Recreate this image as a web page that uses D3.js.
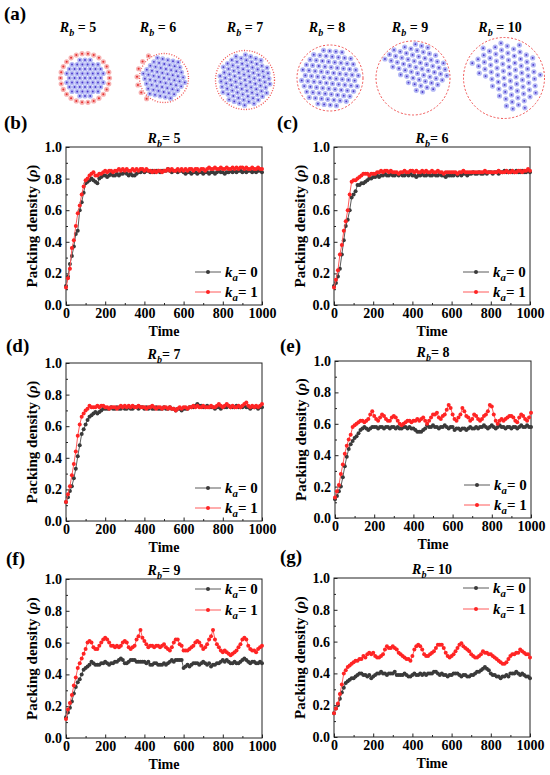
<!DOCTYPE html>
<html>
<head>
<meta charset="utf-8">
<script src="https://cdn.jsdelivr.net/npm/d3@7"></script>
<style>
  body { margin: 0; background: #fff; }
  svg text { font-family: "Liberation Serif", "Times New Roman", serif; font-weight: bold; fill: #000; }
</style>
</head>
<body>
<svg id="fig" width="550" height="775"></svg>
<script>
// 1: DATA (time step 10)
const times = d3.range(0, 1001, 10);
const xTicks = [0, 200, 400, 600, 800, 1000];
const yTicks = [0, 0.2, 0.4, 0.6, 0.8, 1.0];
const rbValues = [5, 6, 7, 8, 9, 10];
const kaLabels = ["0", "1"];

const rb5Ka0 = [0.12,0.18,0.26,0.31,0.37,0.45,0.47,0.60,0.65,0.71,0.77,0.78,0.79,0.80,0.79,0.78,0.77,0.80,0.81,0.82,0.82,
  0.81,0.82,0.83,0.82,0.82,0.83,0.82,0.83,0.83,0.84,0.83,0.82,0.83,0.82,0.82,0.83,0.84,0.84,0.85,0.84,
  0.85,0.85,0.84,0.85,0.84,0.85,0.85,0.84,0.85,0.85,0.85,0.86,0.85,0.84,0.85,0.85,0.84,0.85,0.85,0.84,
  0.83,0.84,0.84,0.83,0.84,0.84,0.83,0.84,0.84,0.83,0.84,0.84,0.83,0.84,0.84,0.83,0.84,0.85,0.84,0.84,
  0.83,0.84,0.84,0.85,0.84,0.85,0.84,0.85,0.85,0.84,0.85,0.84,0.85,0.85,0.84,0.85,0.84,0.85,0.85,0.84];
const rb5Ka1 = [0.11,0.17,0.23,0.36,0.41,0.50,0.58,0.63,0.70,0.75,0.79,0.80,0.82,0.83,0.84,0.82,0.82,0.83,0.83,0.84,0.85,
  0.84,0.85,0.85,0.84,0.85,0.85,0.86,0.85,0.86,0.85,0.86,0.85,0.85,0.86,0.85,0.86,0.85,0.86,0.86,0.85,
  0.86,0.85,0.85,0.84,0.85,0.84,0.85,0.85,0.84,0.85,0.85,0.86,0.85,0.86,0.85,0.85,0.86,0.85,0.86,0.85,
  0.86,0.85,0.86,0.86,0.85,0.86,0.86,0.85,0.86,0.86,0.85,0.86,0.87,0.86,0.86,0.87,0.86,0.86,0.87,0.86,
  0.86,0.87,0.86,0.86,0.87,0.86,0.87,0.86,0.87,0.87,0.86,0.87,0.86,0.86,0.87,0.86,0.86,0.87,0.86,0.86];

const rb6Ka0 = [0.12,0.14,0.18,0.23,0.32,0.41,0.50,0.54,0.60,0.68,0.70,0.72,0.76,0.76,0.77,0.77,0.78,0.79,0.80,0.80,0.81,
  0.81,0.82,0.81,0.82,0.82,0.83,0.82,0.82,0.83,0.82,0.82,0.83,0.82,0.83,0.82,0.82,0.83,0.82,0.83,0.82,
  0.82,0.81,0.82,0.82,0.83,0.82,0.82,0.83,0.82,0.82,0.83,0.82,0.82,0.83,0.82,0.82,0.81,0.82,0.82,0.82,
  0.82,0.83,0.82,0.83,0.82,0.83,0.83,0.82,0.83,0.83,0.84,0.83,0.83,0.84,0.83,0.83,0.84,0.83,0.84,0.84,
  0.83,0.84,0.84,0.83,0.84,0.84,0.85,0.84,0.84,0.85,0.84,0.84,0.85,0.84,0.84,0.85,0.84,0.84,0.85,0.84];
const rb6Ka1 = [0.11,0.16,0.22,0.32,0.38,0.47,0.53,0.60,0.70,0.78,0.79,0.79,0.80,0.81,0.82,0.83,0.83,0.83,0.82,0.83,0.83,
  0.83,0.84,0.84,0.85,0.84,0.85,0.85,0.84,0.85,0.84,0.84,0.84,0.83,0.84,0.84,0.85,0.84,0.84,0.85,0.85,
  0.84,0.85,0.84,0.84,0.85,0.84,0.85,0.84,0.84,0.85,0.84,0.84,0.85,0.84,0.84,0.83,0.84,0.84,0.84,0.84,
  0.84,0.84,0.83,0.84,0.84,0.85,0.84,0.84,0.84,0.84,0.84,0.84,0.84,0.84,0.84,0.84,0.85,0.84,0.84,0.84,
  0.84,0.84,0.84,0.85,0.84,0.84,0.84,0.85,0.84,0.84,0.85,0.84,0.84,0.85,0.85,0.84,0.85,0.85,0.86,0.85];

const rb7Ka0 = [0.12,0.15,0.19,0.22,0.27,0.33,0.41,0.48,0.55,0.58,0.61,0.64,0.66,0.67,0.68,0.69,0.68,0.69,0.70,0.71,0.71,
  0.71,0.71,0.72,0.71,0.71,0.72,0.71,0.71,0.72,0.71,0.71,0.72,0.71,0.71,0.72,0.72,0.71,0.72,0.72,0.71,
  0.72,0.71,0.72,0.71,0.71,0.72,0.71,0.71,0.71,0.72,0.71,0.71,0.72,0.71,0.71,0.70,0.71,0.71,0.70,0.71,
  0.71,0.71,0.72,0.72,0.72,0.73,0.74,0.73,0.73,0.72,0.72,0.73,0.72,0.72,0.72,0.71,0.72,0.72,0.71,0.72,
  0.72,0.72,0.73,0.72,0.72,0.72,0.73,0.72,0.72,0.72,0.73,0.72,0.72,0.71,0.72,0.72,0.72,0.71,0.72,0.72];
const rb7Ka1 = [0.12,0.17,0.22,0.29,0.36,0.44,0.54,0.61,0.66,0.68,0.70,0.71,0.73,0.72,0.72,0.72,0.73,0.72,0.73,0.73,0.72,
  0.72,0.71,0.72,0.72,0.72,0.71,0.72,0.73,0.72,0.73,0.72,0.73,0.72,0.73,0.72,0.72,0.73,0.72,0.72,0.72,
  0.71,0.72,0.72,0.73,0.72,0.71,0.72,0.72,0.71,0.72,0.72,0.71,0.72,0.71,0.71,0.70,0.71,0.72,0.71,0.72,
  0.72,0.71,0.72,0.72,0.73,0.72,0.73,0.72,0.72,0.73,0.72,0.72,0.72,0.73,0.72,0.72,0.73,0.74,0.73,0.72,
  0.73,0.74,0.73,0.72,0.73,0.72,0.72,0.73,0.72,0.73,0.74,0.75,0.73,0.72,0.73,0.72,0.73,0.72,0.73,0.74];

const rb8Ka0 = [0.12,0.14,0.17,0.20,0.26,0.33,0.39,0.44,0.47,0.49,0.51,0.52,0.54,0.56,0.57,0.58,0.57,0.56,0.57,0.58,0.58,
  0.58,0.57,0.58,0.58,0.57,0.58,0.58,0.57,0.58,0.58,0.57,0.58,0.57,0.57,0.58,0.58,0.57,0.58,0.57,0.57,
  0.56,0.55,0.55,0.55,0.56,0.57,0.59,0.58,0.58,0.59,0.58,0.58,0.57,0.58,0.58,0.59,0.58,0.57,0.58,0.58,
  0.56,0.57,0.57,0.56,0.57,0.57,0.56,0.57,0.58,0.57,0.57,0.58,0.57,0.58,0.58,0.59,0.58,0.57,0.58,0.59,
  0.58,0.57,0.58,0.59,0.58,0.58,0.57,0.58,0.58,0.57,0.58,0.58,0.57,0.58,0.59,0.58,0.58,0.59,0.58,0.58];
const rb8Ka1 = [0.13,0.17,0.21,0.28,0.34,0.41,0.46,0.50,0.53,0.58,0.59,0.60,0.61,0.62,0.62,0.61,0.62,0.63,0.66,0.68,0.65,
  0.63,0.62,0.64,0.66,0.65,0.63,0.62,0.62,0.64,0.65,0.64,0.62,0.60,0.59,0.60,0.61,0.62,0.62,0.61,0.62,
  0.62,0.63,0.62,0.63,0.64,0.62,0.60,0.62,0.64,0.66,0.66,0.67,0.64,0.63,0.65,0.66,0.69,0.72,0.70,0.66,
  0.63,0.62,0.64,0.66,0.70,0.68,0.65,0.64,0.62,0.63,0.66,0.65,0.63,0.62,0.63,0.65,0.66,0.68,0.72,0.71,
  0.66,0.62,0.60,0.62,0.63,0.62,0.63,0.64,0.65,0.65,0.64,0.62,0.61,0.64,0.66,0.65,0.63,0.62,0.64,0.67];

const rb9Ka0 = [0.13,0.16,0.19,0.23,0.28,0.32,0.35,0.37,0.40,0.43,0.44,0.45,0.46,0.48,0.47,0.46,0.46,0.46,0.47,0.47,0.48,
  0.47,0.46,0.47,0.47,0.48,0.48,0.49,0.50,0.49,0.47,0.47,0.48,0.49,0.49,0.49,0.48,0.48,0.48,0.48,0.48,
  0.47,0.48,0.46,0.46,0.47,0.47,0.46,0.46,0.46,0.47,0.46,0.47,0.48,0.49,0.48,0.49,0.49,0.49,0.49,0.44,
  0.45,0.46,0.45,0.46,0.47,0.47,0.47,0.46,0.47,0.48,0.47,0.46,0.47,0.45,0.46,0.46,0.47,0.47,0.48,0.49,
  0.48,0.49,0.48,0.47,0.47,0.48,0.47,0.47,0.48,0.49,0.50,0.49,0.48,0.47,0.48,0.48,0.47,0.47,0.48,0.47];
const rb9Ka1 = [0.12,0.18,0.22,0.27,0.33,0.38,0.44,0.47,0.50,0.53,0.56,0.60,0.61,0.60,0.57,0.56,0.56,0.58,0.60,0.62,0.63,
  0.62,0.60,0.58,0.58,0.57,0.58,0.57,0.58,0.60,0.61,0.60,0.57,0.56,0.57,0.58,0.62,0.64,0.68,0.63,0.61,
  0.59,0.57,0.58,0.58,0.57,0.58,0.58,0.57,0.58,0.59,0.57,0.56,0.55,0.57,0.60,0.62,0.62,0.59,0.58,0.55,
  0.55,0.55,0.56,0.57,0.58,0.60,0.61,0.60,0.58,0.56,0.57,0.59,0.62,0.64,0.68,0.62,0.59,0.57,0.55,0.54,
  0.55,0.54,0.53,0.52,0.53,0.54,0.55,0.57,0.59,0.62,0.63,0.62,0.58,0.56,0.55,0.55,0.54,0.56,0.57,0.58];

const rb10Ka0 = [0.15,0.18,0.20,0.24,0.28,0.31,0.34,0.35,0.36,0.37,0.37,0.38,0.39,0.40,0.40,0.39,0.39,0.38,0.39,0.37,0.38,
  0.39,0.40,0.40,0.41,0.40,0.40,0.39,0.40,0.40,0.40,0.41,0.39,0.39,0.39,0.39,0.40,0.39,0.38,0.38,0.39,
  0.40,0.39,0.39,0.40,0.39,0.40,0.39,0.40,0.40,0.40,0.41,0.41,0.40,0.39,0.40,0.39,0.39,0.38,0.39,0.39,
  0.40,0.40,0.40,0.39,0.38,0.39,0.39,0.38,0.38,0.39,0.39,0.40,0.41,0.41,0.42,0.43,0.44,0.43,0.42,0.40,
  0.39,0.39,0.38,0.38,0.37,0.38,0.38,0.39,0.38,0.40,0.40,0.40,0.41,0.40,0.39,0.40,0.39,0.38,0.38,0.37];
const rb10Ka1 = [0.15,0.18,0.21,0.27,0.33,0.40,0.42,0.44,0.45,0.46,0.47,0.48,0.48,0.49,0.49,0.51,0.50,0.52,0.53,0.52,0.53,
  0.51,0.50,0.50,0.51,0.52,0.55,0.57,0.56,0.56,0.57,0.56,0.55,0.53,0.52,0.51,0.50,0.49,0.49,0.48,0.51,
  0.55,0.57,0.58,0.57,0.55,0.52,0.51,0.51,0.52,0.53,0.54,0.56,0.58,0.58,0.58,0.56,0.53,0.51,0.50,0.51,
  0.52,0.54,0.56,0.58,0.59,0.57,0.56,0.55,0.54,0.52,0.51,0.50,0.50,0.51,0.52,0.54,0.53,0.53,0.52,0.52,
  0.51,0.50,0.49,0.48,0.47,0.46,0.46,0.47,0.49,0.51,0.52,0.52,0.53,0.53,0.55,0.54,0.53,0.52,0.52,0.50];

// 2: LAYOUT
const svg = d3.select("#fig");
const FONT = "\"Liberation Serif\", \"Times New Roman\", serif";

const plots = [
  { tag: "(b)", tagX: 4,   tagY: 129, rb: 5,  series: [rb5Ka0, rb5Ka1],  left: 66,  top: 147, w: 196, h: 158, legend: "bottom" },
  { tag: "(c)", tagX: 277, tagY: 129, rb: 6,  series: [rb6Ka0, rb6Ka1],  left: 334, top: 147, w: 196, h: 158, legend: "bottom" },
  { tag: "(d)", tagX: 6,   tagY: 352, rb: 7,  series: [rb7Ka0, rb7Ka1],  left: 66,  top: 363, w: 196, h: 158, legend: "bottom" },
  { tag: "(e)", tagX: 280, tagY: 352, rb: 8,  series: [rb8Ka0, rb8Ka1],  left: 335, top: 361, w: 196, h: 157, legend: "bottom" },
  { tag: "(f)", tagX: 6,   tagY: 565, rb: 9,  series: [rb9Ka0, rb9Ka1],  left: 66,  top: 579, w: 196, h: 159, legend: "top" },
  { tag: "(g)", tagX: 280, tagY: 563, rb: 10, series: [rb10Ka0, rb10Ka1], left: 334, top: 578, w: 196, h: 159, legend: "top" }
];

const lineColors = ["#5a5a5a", "#ff5a5a"];
const dotColors = ["#3a3a3a", "#ff2424"];

// subscript label helper: main italic letter + italic subscript + rest
function subLabel(sel, main, sub, rest, size) {
  sel.append("tspan").attr("font-style", "italic").text(main);
  sel.append("tspan").attr("font-style", "italic").attr("font-size", size * 0.72).attr("dy", size * 0.25).text(sub);
  sel.append("tspan").attr("dy", -size * 0.25).text(rest);
}

// 3: PANELS (b)-(g)
plots.forEach(p => {
  const g = svg.append("g").attr("transform", `translate(${p.left},${p.top})`);

  const x = d3.scaleLinear().domain([0, 1000]).range([0, p.w]);
  const y = d3.scaleLinear().domain([0, 1]).range([p.h, 0]);

  // axes (ticks inward)
  const xAxis = g.append("g").attr("transform", `translate(0,${p.h})`)
    .call(d3.axisBottom(x).tickValues(xTicks).tickFormat(d3.format("d"))
      .tickSizeInner(-3.5).tickSizeOuter(0).tickPadding(3));
  g.append("g").attr("transform", `translate(0,${p.h})`)
    .call(d3.axisBottom(x).tickValues(d3.range(100, 1000, 200)).tickSizeInner(-2).tickSizeOuter(0).tickFormat(""));
  const yAxis = g.append("g")
    .call(d3.axisLeft(y).tickValues(yTicks).tickFormat(d3.format(".1f")).tickSizeInner(-3.5).tickSizeOuter(0).tickPadding(4));
  g.append("g")
    .call(d3.axisLeft(y).tickValues([0.1, 0.3, 0.5, 0.7, 0.9]).tickSizeInner(-2).tickSizeOuter(0).tickFormat(""));

  g.selectAll(".domain").remove();
  g.selectAll(".tick line").attr("stroke", "#222");
  [xAxis, yAxis].forEach(a => a.selectAll("text")
    .attr("font-family", FONT).attr("font-size", 14).attr("font-weight", "bold").attr("fill", "#000"));

  // frame
  g.append("rect").attr("width", p.w).attr("height", p.h)
    .attr("fill", "none").attr("stroke", "#222").attr("stroke-width", 1);

  // series
  const line = d3.line().x((d, i) => x(times[i])).y(d => y(d));
  p.series.forEach((vals, k) => {
    g.append("path").datum(vals)
      .attr("fill", "none").attr("stroke", lineColors[k]).attr("stroke-width", 1)
      .attr("d", line);
    g.selectAll(null).data(vals).enter().append("circle")
      .attr("cx", (d, i) => x(times[i])).attr("cy", d => y(d))
      .attr("r", 2).attr("fill", dotColors[k]);
  });

  // title
  const title = g.append("text").attr("x", p.w / 2).attr("y", -4)
    .attr("text-anchor", "middle").attr("font-size", 14);
  subLabel(title, "R", "b", "= " + p.rb, 14);

  // axis labels
  g.append("text").attr("x", p.w / 2).attr("y", p.h + 31)
    .attr("text-anchor", "middle").attr("font-size", 14).text("Time");
  const yl = g.append("text").attr("transform", `translate(-29,${p.h / 2}) rotate(-90)`)
    .attr("text-anchor", "middle").attr("font-size", 15);
  yl.append("tspan").text("Packing density (");
  yl.append("tspan").attr("font-style", "italic").text("ρ");
  yl.append("tspan").text(")");

  // legend
  const rows = p.legend === "top" ? [10, 31] : [p.h - 33, p.h - 13];
  kaLabels.forEach((lab, k) => {
    const ly = rows[k];
    g.append("line").attr("x1", p.w - 67).attr("x2", p.w - 41).attr("y1", ly).attr("y2", ly)
      .attr("stroke", lineColors[k]).attr("stroke-width", 1);
    g.append("circle").attr("cx", p.w - 54).attr("cy", ly).attr("r", 2).attr("fill", dotColors[k]);
    const t = g.append("text").attr("x", p.w - 37).attr("y", ly + 5).attr("font-size", 15);
    subLabel(t, "k", "a", "= " + lab, 15);
  });

  // panel tag
  svg.append("text").attr("x", p.tagX).attr("y", p.tagY).attr("font-size", 19).text(p.tag);
});

// 4: PANEL (a) - particle snapshots
svg.append("text").attr("x", 4).attr("y", 20).attr("font-size", 19).text("(a)");

const snaps = [
  { rb: 5,  cx: 85,  cy: 78, tx: 78,  fill: 20, gap: 5.2, rot: 0,  ring: 24.5, pink: [0, 360, 26] },
  { rb: 6,  cx: 164, cy: 78, tx: 158, fill: 22, gap: 5.3, rot: 12, ring: 24.5, dotted: true, pink: [130, 235, 7] },
  { rb: 7,  cx: 245, cy: 80, tx: 245, fill: 27, gap: 5.5, rot: 20, ring: 29.5, dotted: true },
  { rb: 8,  cx: 330, cy: 78, tx: 327, fill: 30, gap: 6.2, rot: 6,  ring: 33,   dashed: true },
  { rb: 9,  cx: 413, cy: 78, tx: 410, fill: 34, gap: 6.4, rot: 15, ring: 37,   dashed: true,
    cuts: [[0.734, -0.679, -7.7], [-0.581, -0.814, -21.6]] },
  { rb: 10, cx: 504, cy: 78, tx: 500, fill: 37, gap: 7.0, rot: 25, ring: 40.5, dashed: true,
    cuts: [[0.771, -0.637, -16.0]] }
];

function lattice(s) {
  const pts = [];
  const a = s.rot * Math.PI / 180, n = Math.ceil(s.fill / s.gap) + 2;
  for (let i = -n; i <= n; i++) {
    for (let j = -n; j <= n; j++) {
      const u = (i + j / 2) * s.gap, v = j * s.gap * Math.sqrt(3) / 2;
      const dx = u * Math.cos(a) - v * Math.sin(a);
      const dy = u * Math.sin(a) + v * Math.cos(a);
      if (Math.hypot(dx, dy) > s.fill) continue;
      if (s.cuts && !s.cuts.every(c => c[0] * dx + c[1] * dy > c[2])) continue;
      pts.push([dx, dy]);
    }
  }
  return pts;
}

snaps.forEach((s, idx) => {
  const g = svg.append("g").attr("transform", `translate(${s.cx},${s.cy})`);

  if (s.dashed || s.dotted) {
    g.append("circle").attr("r", s.ring).attr("fill", "none")
      .attr("stroke", "#f05050").attr("stroke-width", s.dashed ? 1 : 1.3)
      .attr("stroke-dasharray", s.dashed ? "2,1.8" : "1,1.6");
  }

  const pts = lattice(s);
  g.selectAll(null).data(pts).enter().append("circle")
    .attr("cx", d => d[0]).attr("cy", d => d[1]).attr("r", 2.6).attr("fill", "#b3b8f4");
  g.selectAll(null).data(pts).enter().append("circle")
    .attr("cx", d => d[0]).attr("cy", d => d[1]).attr("r", 0.9).attr("fill", "#4b35c9");

  if (s.pink) {
    const [a0, a1, count] = s.pink;
    const step = (a1 - a0) / (a1 - a0 === 360 ? count : count - 1);
    const ang = d3.range(count).map(i => (a0 + i * step) * Math.PI / 180);
    const rr = s.ring + (idx === 0 ? 0 : 2.5);
    g.selectAll(null).data(ang).enter().append("circle")
      .attr("cx", d => rr * Math.cos(d)).attr("cy", d => rr * Math.sin(d))
      .attr("r", 2.6).attr("fill", "#f7b3b3");
    g.selectAll(null).data(ang).enter().append("circle")
      .attr("cx", d => rr * Math.cos(d)).attr("cy", d => rr * Math.sin(d))
      .attr("r", 1).attr("fill", "#e53030");
  }

  const t = svg.append("text").attr("x", s.tx).attr("y", 32)
    .attr("text-anchor", "middle").attr("font-size", 14);
  subLabel(t, "R", "b", " = " + s.rb, 14);
});
</script>
</body>
</html>
